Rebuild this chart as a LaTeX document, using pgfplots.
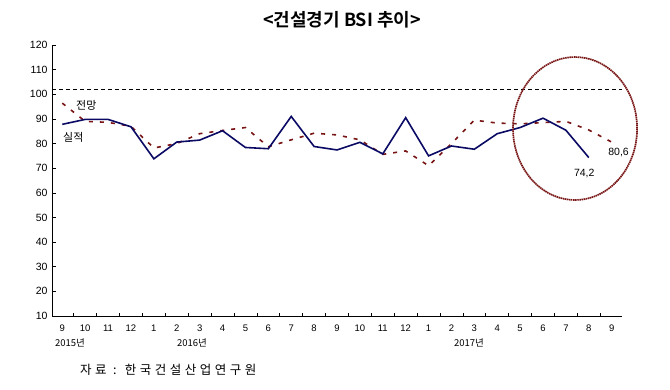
\documentclass[border=0pt]{standalone}
\usepackage{pgfplots}
\pgfplotsset{compat=1.18}
\usepackage{fontspec}
\setmainfont{Liberation Sans}
\newfontfamily\kr[BoldFont={Noto Sans CJK KR Bold}]{Noto Sans CJK KR}
\definecolor{navyline}{RGB}{10,10,100}
\definecolor{maroonline}{RGB}{120,20,20}
\begin{document}
\begin{tikzpicture}
\useasboundingbox (0,0) rectangle (670pt,389pt);
\begin{axis}[
  at={(52pt,73pt)}, anchor=south west,
  scale only axis, width=570pt, height=271pt,
  xmin=-0.45, xmax=24.45, ymin=10, ymax=120,
  axis x line=bottom, axis y line=left,
  axis line style={-, line width=0.8pt},
  xtick={0,...,24},
  xticklabels={9,10,11,12,1,2,3,4,5,6,7,8,9,10,11,12,1,2,3,4,5,6,7,8,9},
  minor xtick={0.5,1.5,...,23.5},
  major x tick style={draw=none},
  minor tick length=3.5pt,
  major tick length=3.5pt,
  tick align=inside,
  tick style={black, line width=0.6pt},
  ytick={10,20,...,120},
  /pgf/number format/assume math mode=true,
  yticklabel style={font=\fontsize{10.5}{12}\selectfont, xshift=-1pt},
  xticklabel style={font=\fontsize{9.5}{11}\selectfont, yshift=-5pt},
  clip=false,
]
\addplot[black, line width=0.7pt, dash pattern=on 4pt off 3pt, forget plot] coordinates {(-0.45,101.8) (24.45,101.8)};
\addplot[maroonline, line width=1.6pt, dash pattern=on 4pt off 7pt] coordinates {
(0,96.4) (1,89) (2,88.6) (3,87) (4,78.2) (5,80) (6,84) (7,85.3) (8,86.5) (9,78.7)
(10,81.5) (11,84.2) (12,83.5) (13,81.5) (14,75.6) (15,77) (16,71) (17,80)
(18,89.5) (19,88.3) (20,88) (21,88.5) (22,89) (23,85.5) (24,80.6)};
\addplot[navyline, line width=1.6pt] coordinates {
(0,87.8) (1,89.8) (2,89.8) (3,86.8) (4,73.8) (5,80.6) (6,81.4) (7,85.2) (8,78.4)
(9,77.9) (10,91) (11,78.8) (12,77.4) (13,80.5) (14,75.8) (15,90.5) (16,75)
(17,79) (18,77.7) (19,84) (20,86.5) (21,90.3) (22,85.4) (23,74.3)};
\draw[maroonline, line width=1.7pt, dash pattern=on 1.5pt off 0.6pt] (axis cs:22.4,86.1) ellipse [x radius=2.71, y radius=29];
\node[font=\kr\fontsize{11}{13}\selectfont] at (axis cs:1.05,95.6) {전망};
\node[font=\kr\fontsize{11}{13}\selectfont] at (axis cs:0.48,82.6) {실적};
\node[font=\fontsize{10.5}{12}\selectfont] at (axis cs:22.8,68) {74,2};
\node[font=\fontsize{10.5}{12}\selectfont] at (axis cs:24.3,76.5) {80,6};
\end{axis}
\node[font=\kr\bfseries\fontsize{18}{21}\selectfont] at (342pt,369pt) {<건설경기 BSI 추이>};
\node[font=\kr\fontsize{9.5}{11}\selectfont] at (70pt,46pt) {2015년};
\node[font=\kr\fontsize{9.5}{11}\selectfont] at (192pt,46pt) {2016년};
\node[font=\kr\fontsize{9.5}{11}\selectfont] at (469pt,46pt) {2017년};
\node[font=\kr\fontsize{12.5}{14}\selectfont\addfontfeatures{LetterSpace=28}, anchor=west, inner sep=0pt] at (80pt,19pt) {자료 : 한국건설산업연구원};
\end{tikzpicture}
\end{document}
